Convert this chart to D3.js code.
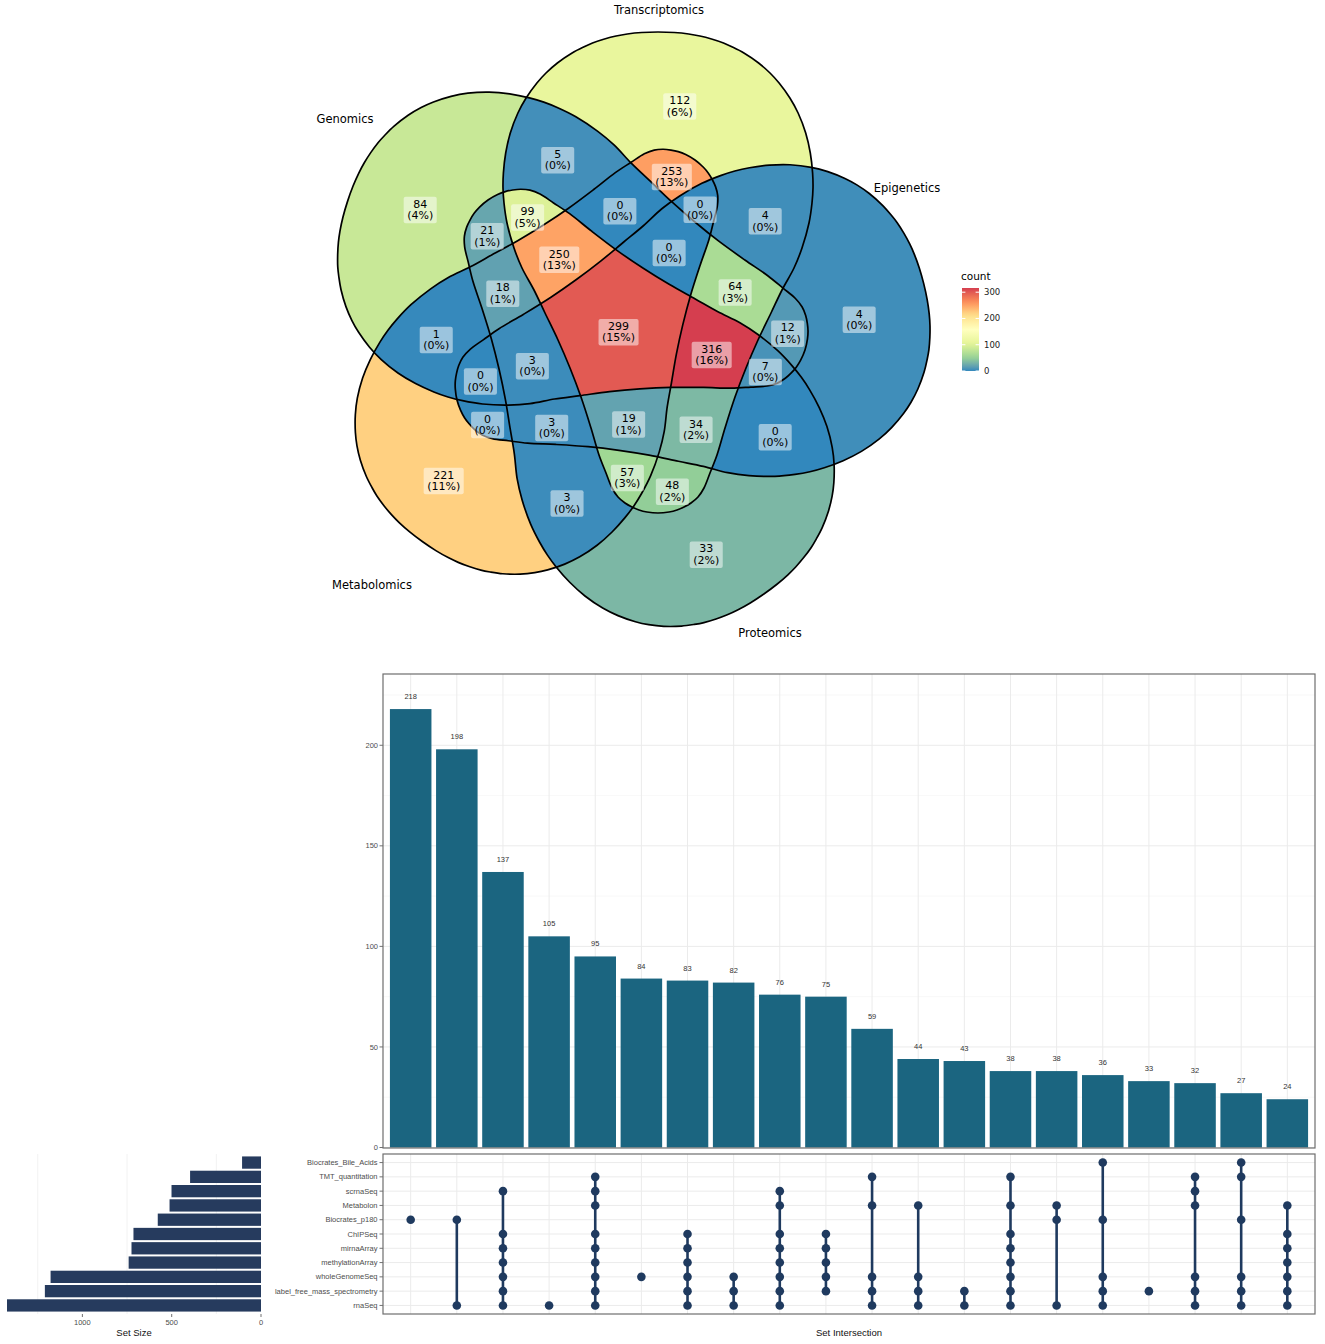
<!DOCTYPE html>
<html>
<head>
<meta charset="utf-8">
<script src="https://cdn.jsdelivr.net/npm/d3@7"></script>
<style>
  body { margin: 0; background: #fff; }
  svg { display: block; }
</style>
</head>
<body>
<svg id="chart" width="1325" height="1344"></svg>
<script>
// ---------------- Venn data ----------------
const vennSetNames = ['Genomics', 'Transcriptomics', 'Epigenetics', 'Proteomics', 'Metabolomics'];
const vennSetKeys = ['G', 'T', 'E', 'P', 'M'];
const vennRegionKeys = [
    'G', 'T', 'E', 'P', 'M',
    'GT', 'TM', 'TE', 'GP', 'GM', 'GE', 'EM', 'EP', 'PM', 'TP',
    'GTM', 'TEM', 'GTP', 'GTE', 'GPM', 'GEP', 'GEM', 'EPM', 'TEP', 'TPM',
    'GTPM', 'GTEM', 'GTEP', 'GEPM', 'TEPM',
    'GTEPM'
];
const vennRegionCounts = [
    84, 112, 4, 33, 221,
    5, 253, 4, 21, 1, 12, 0, 0, 3, 48,
    0, 0, 99, 64, 18, 7, 0, 3, 34, 57,
    250, 0, 316, 3, 19,
    299
];
const legendTicks = [0, 100, 200, 300];

// ---------------- UpSet data ----------------
const upsetSets = ['Biocrates_Bile_Acids', 'TMT_quantitation', 'scrnaSeq', 'Metabolon', 'Biocrates_p180',
    'ChIPSeq', 'mirnaArray', 'methylationArray', 'wholeGenomeSeq', 'label_free_mass_spectrometry', 'rnaSeq'];
const setSizes = [106, 397, 501, 512, 578, 714, 725, 741, 1178, 1210, 1422];
const setSizeTicks = [0, 500, 1000];
const intersectionSizes = [218, 198, 137, 105, 95, 84, 83, 82, 76, 75, 59, 44, 43, 38, 38, 36, 33, 32, 27, 24];
const intersectionTicks = [0, 50, 100, 150, 200];
const intersectionMembers = [
    ['Biocrates_p180'],
    ['Biocrates_p180', 'rnaSeq'],
    ['scrnaSeq', 'ChIPSeq', 'mirnaArray', 'methylationArray', 'wholeGenomeSeq', 'label_free_mass_spectrometry', 'rnaSeq'],
    ['rnaSeq'],
    ['TMT_quantitation', 'scrnaSeq', 'Metabolon', 'ChIPSeq', 'mirnaArray', 'methylationArray', 'wholeGenomeSeq', 'label_free_mass_spectrometry', 'rnaSeq'],
    ['wholeGenomeSeq'],
    ['ChIPSeq', 'mirnaArray', 'methylationArray', 'wholeGenomeSeq', 'label_free_mass_spectrometry', 'rnaSeq'],
    ['wholeGenomeSeq', 'label_free_mass_spectrometry', 'rnaSeq'],
    ['scrnaSeq', 'Metabolon', 'ChIPSeq', 'mirnaArray', 'methylationArray', 'wholeGenomeSeq', 'label_free_mass_spectrometry', 'rnaSeq'],
    ['ChIPSeq', 'mirnaArray', 'methylationArray', 'wholeGenomeSeq', 'label_free_mass_spectrometry'],
    ['TMT_quantitation', 'Metabolon', 'wholeGenomeSeq', 'label_free_mass_spectrometry', 'rnaSeq'],
    ['Metabolon', 'wholeGenomeSeq', 'label_free_mass_spectrometry', 'rnaSeq'],
    ['label_free_mass_spectrometry', 'rnaSeq'],
    ['TMT_quantitation', 'Metabolon', 'ChIPSeq', 'mirnaArray', 'methylationArray', 'wholeGenomeSeq', 'label_free_mass_spectrometry', 'rnaSeq'],
    ['Metabolon', 'Biocrates_p180', 'rnaSeq'],
    ['Biocrates_Bile_Acids', 'Biocrates_p180', 'wholeGenomeSeq', 'label_free_mass_spectrometry', 'rnaSeq'],
    ['label_free_mass_spectrometry'],
    ['TMT_quantitation', 'scrnaSeq', 'Metabolon', 'wholeGenomeSeq', 'label_free_mass_spectrometry', 'rnaSeq'],
    ['Biocrates_Bile_Acids', 'TMT_quantitation', 'Biocrates_p180', 'wholeGenomeSeq', 'label_free_mass_spectrometry', 'rnaSeq'],
    ['Metabolon', 'ChIPSeq', 'mirnaArray', 'methylationArray', 'wholeGenomeSeq', 'label_free_mass_spectrometry', 'rnaSeq'],
];

// ---------------- Venn geometry (layout, venn units) ----------------
// one egg-shaped set outline: [distance from tongue tip, half width]
const shapeProfile = [[0, 0], [1, 11], [3, 19], [6, 26], [10, 33], [16, 40], [25, 46], [40, 52], [58, 59],
    [85, 67], [116, 77], [145, 88], [173, 100], [200, 113], [223, 124], [245, 136], [265, 144], [290, 151],
    [310, 154], [325, 155], [340, 154.6], [360, 152.3], [380, 147.7], [400, 140.1], [415, 131.9], [430, 121.1],
    [440, 112], [450, 100.6], [460, 85.9], [466, 74.4], [470, 65.5], [474, 53.5], [477, 41.9], [479, 30.7],
    [480.5, 16.3], [481, 0]];
// each set: where its tongue tip sits, which way the big lobe points, relative size
const shapeLayout = {
    G: { tip: [185, 20], angle: 198, size: 1 },
    T: { tip: [38, 183], angle: 270, size: 1 },
    E: { tip: [-163, 70], angle: 346, size: 1 },
    P: { tip: [-132, -130], angle: 55, size: 1 },
    M: { tip: [75, -170], angle: 125.5, size: 0.975 },
};
const setLabelAt = {
    G: [-275, -211], T: [39, -320], E: [287, -142], P: [150, 303], M: [-248, 255],
};

const W = 1325;
const svg = d3.select('#chart');
const defs = svg.append('defs');

const vx = d3.scaleLinear().domain([-300, 300]).range([320, 920]);
const vy = d3.scaleLinear().domain([-300, 300]).range([30, 630]);

// reversed 7-class Spectral, as scale_fill_distiller builds it
const countMax = d3.max(vennRegionCounts);
const spectral7 = ['#3288bd', '#99d594', '#e6f598', '#ffffbf', '#fee08b', '#fc8d59', '#d53e4f'];
const color = d3.scaleLinear()
    .domain(spectral7.map((c, i) => i * countMax / (spectral7.length - 1)))
    .range(spectral7)
    .interpolate(d3.interpolateLab);

function shapeRing(key) {
    const { tip, angle, size } = shapeLayout[key];
    const a = angle * Math.PI / 180;
    const u = [Math.cos(a), Math.sin(a)];
    const n = [-Math.sin(a), Math.cos(a)];
    const pt = (d, w) => [vx(tip[0] + size * (d * u[0] + w * n[0])), vy(tip[1] + size * (d * u[1] + w * n[1]))];
    const right = shapeProfile.map(([d, w]) => pt(d, w));
    const left = shapeProfile.slice(1, -1).reverse().map(([d, w]) => pt(d, -w));
    return right.concat(left);
}
const closedLine = d3.line().curve(d3.curveCatmullRomClosed.alpha(0.5));
const shapePaths = {};
vennSetKeys.forEach(k => { shapePaths[k] = closedLine(shapeRing(k)); });

// sample smooth outlines into polygons for membership tests
const probe = svg.append('g').attr('visibility', 'hidden');
const shapePolys = {};
vennSetKeys.forEach(k => {
    const p = probe.append('path').attr('d', shapePaths[k]).node();
    const len = p.getTotalLength();
    const N = 300;
    shapePolys[k] = d3.range(N).map(i => {
        const q = p.getPointAtLength(len * i / N);
        return [q.x, q.y];
    });
});
probe.remove();

vennSetKeys.forEach(k => {
    defs.append('clipPath').attr('id', 'clip-' + k)
        .append('path').attr('d', shapePaths[k]);
});

const regionLayer = svg.append('g');
vennRegionKeys.forEach((rk, ri) => {
    const inc = vennSetKeys.filter(k => rk.includes(k));
    const exc = vennSetKeys.filter(k => !rk.includes(k));
    const mask = defs.append('mask').attr('id', 'mask-' + rk)
        .attr('maskUnits', 'userSpaceOnUse')
        .attr('x', 0).attr('y', 0).attr('width', W).attr('height', 660);
    mask.append('rect').attr('width', W).attr('height', 660).attr('fill', '#fff');
    exc.forEach(k => mask.append('path').attr('d', shapePaths[k]).attr('fill', '#000'));
    let g = regionLayer.append('g').attr('mask', `url(#mask-${rk})`);
    inc.forEach(k => { g = g.append('g').attr('clip-path', `url(#clip-${k})`); });
    g.append('rect').attr('x', 300).attr('y', 0).attr('width', 660).attr('height', 660)
        .attr('fill', color(vennRegionCounts[ri]));
});

svg.append('g').selectAll('path')
    .data(vennSetKeys)
    .join('path')
    .attr('d', k => shapePaths[k])
    .attr('fill', 'none')
    .attr('stroke', '#000')
    .attr('stroke-width', 1.7);

// region centroids by grid sampling
const allPts = vennSetKeys.flatMap(k => shapePolys[k]);
const [bx0, bx1] = d3.extent(allPts, p => p[0]);
const [by0, by1] = d3.extent(allPts, p => p[1]);
const bboxes = {};
vennSetKeys.forEach(k => {
    bboxes[k] = [d3.extent(shapePolys[k], p => p[0]), d3.extent(shapePolys[k], p => p[1])];
});
const acc = {};
const step = 2.5;
for (let x = bx0; x <= bx1; x += step) {
    for (let y = by0; y <= by1; y += step) {
        let key = '';
        for (const k of vennSetKeys) {
            const b = bboxes[k];
            if (x < b[0][0] || x > b[0][1] || y < b[1][0] || y > b[1][1]) continue;
            if (d3.polygonContains(shapePolys[k], [x, y])) key += k;
        }
        if (!key) continue;
        const a = acc[key] || (acc[key] = [0, 0, 0]);
        a[0] += x; a[1] += y; a[2] += 1;
    }
}

const total = d3.sum(vennRegionCounts);
const labelLayer = svg.append('g')
    .attr('font-family', 'DejaVu Sans, sans-serif')
    .attr('font-size', 11)
    .attr('fill', '#000');
vennRegionKeys.forEach((rk, ri) => {
    const a = acc[rk];
    if (!a) return;
    const cx = a[0] / a[2], cy = a[1] / a[2];
    const v = vennRegionCounts[ri];
    const g = labelLayer.append('g').attr('transform', `translate(${cx},${cy})`);
    const box = g.append('rect').attr('fill', '#fff').attr('fill-opacity', 0.5).attr('rx', 2);
    const t = g.append('text').attr('text-anchor', 'middle');
    t.append('tspan').attr('x', 0).attr('y', 3).text(v);
    t.append('tspan').attr('x', 0).attr('y', 14.5).text(`(${Math.round(v / total * 100)}%)`);
    const bb = t.node().getBBox();
    box.attr('x', bb.x - 3.5).attr('y', bb.y - 1).attr('width', bb.width + 7).attr('height', bb.height + 2);
});

svg.append('g')
    .attr('font-family', 'DejaVu Sans, sans-serif')
    .attr('font-size', 11.5)
    .selectAll('text')
    .data(vennSetKeys)
    .join('text')
    .attr('x', k => vx(setLabelAt[k][0]))
    .attr('y', k => vy(setLabelAt[k][1]))
    .attr('dy', '0.35em')
    .attr('text-anchor', 'middle')
    .text((k, i) => vennSetNames[i]);

// legend
const legendY = d3.scaleLinear().domain([0, countMax]).range([371, 288]);
const grad = defs.append('linearGradient').attr('id', 'legendGrad')
    .attr('x1', 0).attr('y1', 1).attr('x2', 0).attr('y2', 0);
d3.range(0, 1.0001, 0.05).forEach(t => {
    grad.append('stop').attr('offset', t).attr('stop-color', color(t * countMax));
});
const legend = svg.append('g').attr('font-family', 'DejaVu Sans, sans-serif');
legend.append('text').attr('x', 961).attr('y', 280).attr('font-size', 10.5).text('count');
legend.append('rect').attr('x', 962).attr('y', legendY(countMax)).attr('width', 17)
    .attr('height', legendY(0) - legendY(countMax)).attr('fill', 'url(#legendGrad)');
legendTicks.forEach(v => {
    const y = legendY(v);
    legend.append('line').attr('x1', 962).attr('x2', 965.4).attr('y1', y).attr('y2', y).attr('stroke', '#fff');
    legend.append('line').attr('x1', 975.6).attr('x2', 979).attr('y1', y).attr('y2', y).attr('stroke', '#fff');
    legend.append('text').attr('x', 984).attr('y', y).attr('dy', '0.35em')
        .attr('font-size', 8.5).attr('fill', '#222').text(v);
});

// ---------------- UpSet plot ----------------
const UP = { x0: 383, x1: 1315, barTop: 674, barBottom: 1148, matTop: 1154, matBottom: 1314, setLeft: 7, setZero: 261 };
const fontUp = 'Liberation Sans, Arial, sans-serif';
const gridCol = '#ebebeb';

const xCol = d3.scalePoint().domain(d3.range(intersectionSizes.length)).range([UP.x0, UP.x1]).padding(0.6);
const yBar = d3.scaleLinear().domain([0, d3.max(intersectionSizes) * 1.08]).range([UP.barBottom - 0.5, UP.barTop]);
const yRow = d3.scalePoint().domain(upsetSets).range([UP.matTop, UP.matBottom]).padding(0.6);
const xSet = d3.scaleLinear().domain([0, d3.max(setSizes)]).range([UP.setZero, UP.setLeft]);

const up = svg.append('g').attr('font-family', fontUp);

// bar panel grid
const barGrid = up.append('g');
d3.range(25, yBar.domain()[1], 50).forEach(v => {
    barGrid.append('line').attr('x1', UP.x0).attr('x2', UP.x1).attr('y1', yBar(v)).attr('y2', yBar(v))
        .attr('stroke', '#f3f3f3').attr('stroke-width', 0.6);
});
intersectionTicks.forEach(v => {
    barGrid.append('line').attr('x1', UP.x0).attr('x2', UP.x1).attr('y1', yBar(v)).attr('y2', yBar(v))
        .attr('stroke', gridCol).attr('stroke-width', 1);
});
xCol.domain().forEach(i => {
    barGrid.append('line').attr('x1', xCol(i)).attr('x2', xCol(i)).attr('y1', UP.barTop).attr('y2', UP.barBottom)
        .attr('stroke', gridCol).attr('stroke-width', 1);
});

const bw = xCol.step() * 0.9;
up.append('g').selectAll('rect')
    .data(intersectionSizes)
    .join('rect')
    .attr('x', (d, i) => xCol(i) - bw / 2)
    .attr('width', bw)
    .attr('y', d => yBar(d))
    .attr('height', d => yBar(0) - yBar(d))
    .attr('fill', '#1b6580');

up.append('g').selectAll('text')
    .data(intersectionSizes)
    .join('text')
    .attr('x', (d, i) => xCol(i))
    .attr('y', d => yBar(d) - 10)
    .attr('text-anchor', 'middle')
    .attr('font-size', 7.5)
    .attr('fill', '#333')
    .text(d => d);

const yAxisG = up.append('g');
intersectionTicks.forEach(v => {
    yAxisG.append('line').attr('x1', UP.x0 - 3.5).attr('x2', UP.x0).attr('y1', yBar(v)).attr('y2', yBar(v))
        .attr('stroke', '#333').attr('stroke-width', 0.7);
    yAxisG.append('text').attr('x', UP.x0 - 5).attr('y', yBar(v)).attr('dy', '0.35em')
        .attr('text-anchor', 'end').attr('font-size', 7.5).attr('fill', '#4d4d4d').text(v);
});

up.append('rect').attr('x', UP.x0).attr('y', UP.barTop).attr('width', UP.x1 - UP.x0)
    .attr('height', UP.barBottom - UP.barTop).attr('fill', 'none').attr('stroke', '#6e6e6e').attr('stroke-width', 1.2);

// matrix panel
const matGrid = up.append('g');
upsetSets.forEach(s => {
    matGrid.append('line').attr('x1', UP.x0).attr('x2', UP.x1).attr('y1', yRow(s)).attr('y2', yRow(s))
        .attr('stroke', gridCol).attr('stroke-width', 1);
});
xCol.domain().forEach(i => {
    matGrid.append('line').attr('x1', xCol(i)).attr('x2', xCol(i)).attr('y1', UP.matTop).attr('y2', UP.matBottom)
        .attr('stroke', gridCol).attr('stroke-width', 1);
});

const dotColor = '#1f3a5f';
const matrix = up.append('g');
intersectionMembers.forEach((members, i) => {
    const ys = members.map(m => yRow(m));
    if (ys.length > 1) {
        matrix.append('line').attr('x1', xCol(i)).attr('x2', xCol(i))
            .attr('y1', d3.min(ys)).attr('y2', d3.max(ys))
            .attr('stroke', dotColor).attr('stroke-width', 2.6);
    }
    matrix.selectAll(null).data(members).join('circle')
        .attr('cx', xCol(i)).attr('cy', m => yRow(m)).attr('r', 4.3).attr('fill', dotColor);
});

const rowAxis = up.append('g');
upsetSets.forEach(s => {
    rowAxis.append('line').attr('x1', UP.x0 - 3.5).attr('x2', UP.x0).attr('y1', yRow(s)).attr('y2', yRow(s))
        .attr('stroke', '#333').attr('stroke-width', 0.7);
    rowAxis.append('text').attr('x', UP.x0 - 5.5).attr('y', yRow(s)).attr('dy', '0.35em')
        .attr('text-anchor', 'end').attr('font-size', 7.5).attr('fill', '#4d4d4d').text(s);
});

up.append('rect').attr('x', UP.x0).attr('y', UP.matTop).attr('width', UP.x1 - UP.x0)
    .attr('height', UP.matBottom - UP.matTop).attr('fill', 'none').attr('stroke', '#6e6e6e').attr('stroke-width', 1.2);

// set size panel
const setGrid = up.append('g');
[250, 750, 1250].forEach(v => {
    setGrid.append('line').attr('x1', xSet(v)).attr('x2', xSet(v)).attr('y1', UP.matTop).attr('y2', UP.matBottom)
        .attr('stroke', '#efefef').attr('stroke-width', 0.8);
});
const bh = yRow.step() * 0.86;
up.append('g').selectAll('rect')
    .data(upsetSets)
    .join('rect')
    .attr('x', (s, i) => xSet(setSizes[i]))
    .attr('width', (s, i) => xSet(0) - xSet(setSizes[i]))
    .attr('y', s => yRow(s) - bh / 2)
    .attr('height', bh)
    .attr('fill', '#263b5e');

const setAxis = up.append('g');
setSizeTicks.forEach(v => {
    setAxis.append('line').attr('x1', xSet(v)).attr('x2', xSet(v)).attr('y1', UP.matBottom).attr('y2', UP.matBottom + 3)
        .attr('stroke', '#333').attr('stroke-width', 0.7);
    setAxis.append('text').attr('x', xSet(v)).attr('y', UP.matBottom + 8.5).attr('dy', '0.35em')
        .attr('text-anchor', 'middle').attr('font-size', 7.5).attr('fill', '#4d4d4d').text(v);
});

up.append('text').attr('x', (xSet.range()[0] + xSet.range()[1]) / 2).attr('y', 1336)
    .attr('text-anchor', 'middle').attr('font-size', 9.5).attr('fill', '#111').text('Set Size');
up.append('text').attr('x', (UP.x0 + UP.x1) / 2).attr('y', 1336)
    .attr('text-anchor', 'middle').attr('font-size', 9.5).attr('fill', '#111').text('Set Intersection');
</script>
</body>
</html>
